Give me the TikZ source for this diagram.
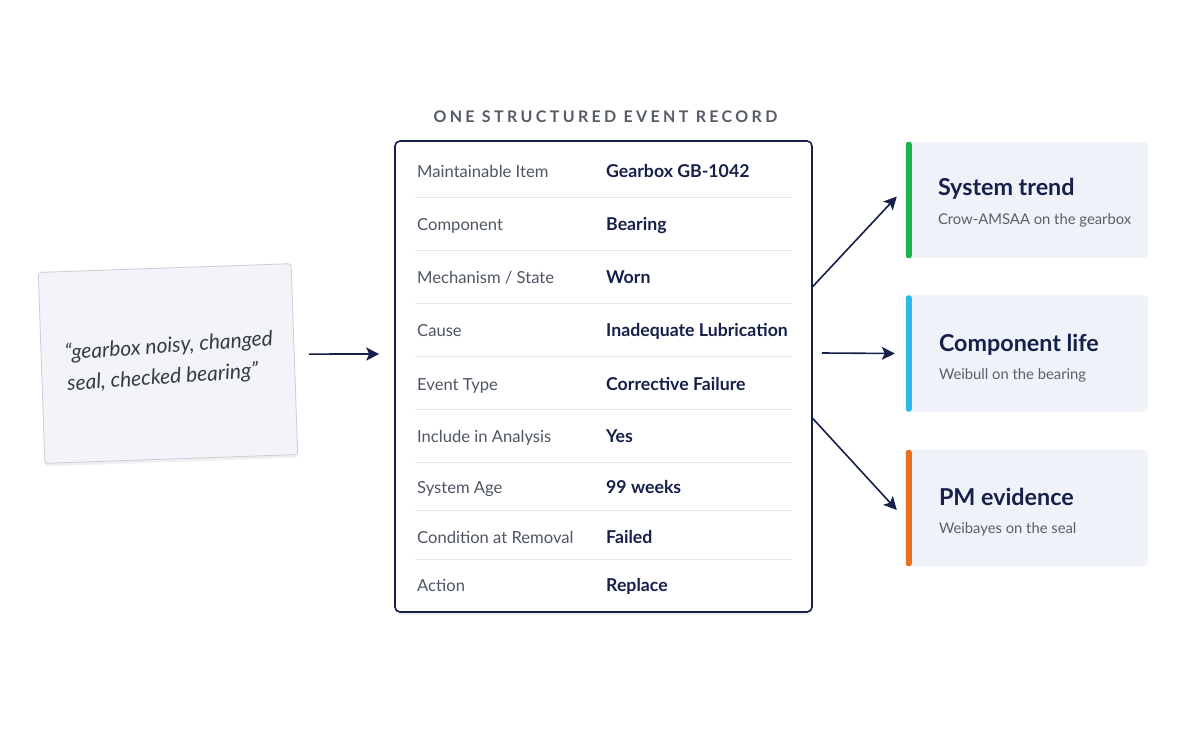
\documentclass[tikz,border=0pt]{standalone}
\usepackage{fontspec}
\setmainfont{Lato}
\newfontfamily\trackfont[LetterSpace=21]{Lato}
\usetikzlibrary{arrows.meta,shadows,calc}
\definecolor{navy}{HTML}{16204A}
\definecolor{lblgray}{HTML}{4F5663}
\definecolor{ttlgray}{HTML}{555C67}
\definecolor{subgray}{HTML}{5A606B}
\definecolor{cardfill}{HTML}{EFF2F8}
\definecolor{notefill}{HTML}{F2F4F9}
\definecolor{notedraw}{HTML}{C9CDD5}
\definecolor{sepline}{HTML}{E3E6EA}
\definecolor{handink}{HTML}{363B43}
\definecolor{bargreen}{HTML}{1DB34A}
\definecolor{barcyan}{HTML}{2CB9EC}
\definecolor{barorange}{HTML}{E8721C}
\begin{document}
\begin{tikzpicture}[x=1pt,y=-1pt,
  lbl/.style={anchor=base west, inner sep=0pt, text=lblgray, font=\fontsize{16.6}{20}\selectfont},
  val/.style={anchor=base west, inner sep=0pt, text=navy, font=\fontsize{17.7}{20}\selectfont\bfseries},
  sep/.style={draw=sepline, line width=1pt},
  card/.style={fill=cardfill, rounded corners=4pt, minimum width=242, minimum height=116, inner sep=0pt},
  ctitle/.style={anchor=base west, inner sep=0pt, text=navy, font=\fontsize{23.3}{26}\selectfont\bfseries},
  csub/.style={anchor=base west, inner sep=0pt, text=subgray, font=\fontsize{14.8}{18}\selectfont},
  arr/.style={draw=navy, line width=1.6pt, -{Stealth[length=13pt,width=13pt,inset=3pt]}},
]
\useasboundingbox (0,0) rectangle (1200,751);
\fill[white] (0,0) rectangle (1200,751);

% handwritten note
\node[fill=notefill, draw=notedraw, line width=0.8pt, rounded corners=3pt,
      minimum width=253, minimum height=191, rotate=2,
      drop shadow={shadow xshift=0pt, shadow yshift=-3pt, opacity=0.12}] (note) at (168,363.5) {};
\node[rotate=4, align=left, text=handink, inner sep=0pt,
      font=\fontsize{21}{31}\selectfont\itshape] (notetext) at (170,362)
  {“gearbox noisy, changed\\seal, checked bearing”};

% title
\node[text=ttlgray, inner sep=0pt, anchor=base, font=\fontsize{16}{18}\selectfont\trackfont\bfseries] (ttl) at (605.5,122.5) {ONE STRUCTURED EVENT RECORD};

% record table
\node[draw=navy, fill=white, line width=1.6pt, rounded corners=5pt,
      minimum width=417, minimum height=471, inner sep=0pt,
      drop shadow={shadow xshift=0pt, shadow yshift=-3pt, opacity=0.12}] (rec) at (603.5,376.5) {};
\foreach \y in {198,251,304,357,409.5,462,510.5,559} { \draw[sep] (415,\y) -- (792,\y); }

\node[lbl] (l1) at (417,178) {Maintainable Item};   \node[val] (v1) at (606,178) {Gearbox GB-1042};
\node[lbl] (l2) at (417,231) {Component};           \node[val] (v2) at (606,231) {Bearing};
\node[lbl] (l3) at (417,284) {Mechanism / State};   \node[val] (v3) at (606,284) {Worn};
\node[lbl] (l4) at (417,337) {Cause};               \node[val] (v4) at (606,337) {Inadequate Lubrication};
\node[lbl] (l5) at (417,390) {Event Type};          \node[val] (v5) at (606,390) {Corrective Failure};
\node[lbl] (l6) at (417,442) {Include in Analysis}; \node[val] (v6) at (606,442) {Yes};
\node[lbl] (l7) at (417,493) {System Age};          \node[val] (v7) at (606,493) {99 weeks};
\node[lbl] (l8) at (417,543) {Condition at Removal};\node[val] (v8) at (606,543) {Failed};
\node[lbl] (l9) at (417,591) {Action};              \node[val] (v9) at (606,591) {Replace};

% cards
\node[card] (c1) at (1027,200) {};
\node[card] (c2) at (1027,353.5) {};
\node[card] (c3) at (1027,508) {};
\fill[bargreen, rounded corners=2.5pt] (c1.north west) rectangle ([xshift=6pt]c1.south west);
\fill[barcyan, rounded corners=2.5pt] (c2.north west) rectangle ([xshift=6pt]c2.south west);
\fill[barorange, rounded corners=2.5pt] (c3.north west) rectangle ([xshift=6pt]c3.south west);

\node[ctitle] (t1) at ([xshift=32pt,yshift=4pt]c1.west) {System trend};
\node[csub]   (s1) at ([xshift=32pt,yshift=-25pt]c1.west) {Crow-AMSAA on the gearbox};
\node[ctitle] (t2) at ([xshift=33pt,yshift=2pt]c2.west) {Component life};
\node[csub]   (s2) at ([xshift=33pt,yshift=-26.5pt]c2.west) {Weibull on the bearing};
\node[ctitle] (t3) at ([xshift=33pt,yshift=3pt]c3.west) {PM evidence};
\node[csub]   (s3) at ([xshift=33pt,yshift=-25pt]c3.west) {Weibayes on the seal};

% connectors
\draw[arr] ([xshift=14pt,yshift=5pt]note.east) -- ([xshift=-15pt,yshift=22.5pt]rec.west);
\draw[arr] ([yshift=90pt]rec.east) -- ([xshift=-9pt,yshift=3.5pt]c1.west);
\draw[arr] ([xshift=9pt,yshift=23.5pt]rec.east) -- ([xshift=-11pt]c2.west);
\draw[arr] ([yshift=-42pt]rec.east) -- ([xshift=-9pt,yshift=-2pt]c3.west);
\end{tikzpicture}
\end{document}
